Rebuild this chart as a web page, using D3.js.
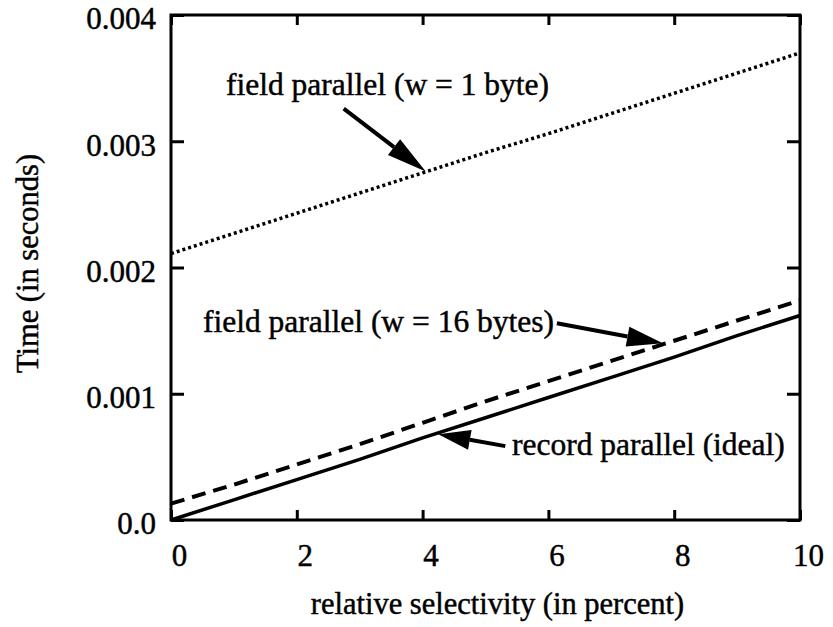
<!DOCTYPE html>
<html>
<head>
<meta charset="utf-8">
<script src="https://cdn.jsdelivr.net/npm/d3@7"></script>
<style>
  body { margin: 0; background: #fff; }
  svg text { font-family: "Liberation Serif", "Times New Roman", serif; fill: #000; stroke: #000; stroke-width: 0.45px; }
</style>
</head>
<body>
<div id="chart"></div>
<script>
// relative selectivity (percent)
const selectivity = [0, 1, 2, 3, 4, 5, 6, 7, 8, 9, 10];
// time in seconds
const fieldW1 = [0.00211, 0.00227, 0.00243, 0.00259, 0.00275, 0.00291, 0.00306, 0.00322, 0.00338, 0.00354, 0.00370];
const fieldW16 = [0.00013, 0.00028, 0.00044, 0.00060, 0.00077, 0.00094, 0.00110, 0.00126, 0.00142, 0.00158, 0.00174];
const recordIdeal = [0.00000, 0.00016, 0.00032, 0.00048, 0.00065, 0.00081, 0.00097, 0.00113, 0.00129, 0.00146, 0.00162];

const xTicks = [0, 2, 4, 6, 8, 10];
const yTicks = [0, 0.001, 0.002, 0.003, 0.004];
const yTickLabels = ["0.0", "0.001", "0.002", "0.003", "0.004"];

const width = 833,
      height = 627,
      margin = ({top: 15, right: 33, bottom: 107, left: 171});

const svg = d3.select("#chart")
    .append("svg")
    .attr("width", width)
    .attr("height", height);

const x = d3.scaleLinear()
    .domain([0, 10])
    .range([margin.left, width - margin.right]);

const y = d3.scaleLinear()
    .domain([0, 0.004])
    .range([height - margin.bottom, margin.top]);

// axes, ticks point inward
svg.append("g")
    .attr("transform", `translate(0,${height - margin.bottom})`)
    .call(d3.axisBottom(x).tickValues(xTicks).tickSize(-10).tickPadding(24).tickFormat(d => d))
    .call(g => g.selectAll("text").attr("dx", 8));

svg.append("g")
    .attr("transform", `translate(0,${margin.top})`)
    .call(d3.axisTop(x).tickValues(xTicks).tickSize(-10).tickFormat(""));

svg.append("g")
    .attr("transform", `translate(${margin.left},0)`)
    .call(d3.axisLeft(y).tickValues(yTicks).tickSize(-13).tickPadding(15).tickFormat((d, i) => yTickLabels[i]))
    .call(g => g.selectAll("text").attr("dy", "0.45em"));

svg.append("g")
    .attr("transform", `translate(${width - margin.right},0)`)
    .call(d3.axisRight(y).tickValues(yTicks).tickSize(-13).tickFormat(""));

svg.selectAll(".domain").remove();
svg.selectAll(".tick line").attr("stroke", "#000").attr("stroke-width", 3);
svg.selectAll(".tick text").style("font-size", "31px").attr("fill", "#000");

// frame
svg.append("rect")
    .attr("x", x(0))
    .attr("y", y(0.004))
    .attr("width", x(10) - x(0))
    .attr("height", y(0) - y(0.004))
    .attr("fill", "none")
    .attr("stroke", "#000")
    .attr("stroke-width", 3);

const line = d3.line()
    .x((d, i) => x(selectivity[i]))
    .y(d => y(d));

svg.append("path")
    .datum(fieldW1)
    .attr("d", line)
    .attr("fill", "none")
    .attr("stroke", "#000")
    .attr("stroke-width", 3.5)
    .attr("stroke-dasharray", "3,3");

svg.append("path")
    .datum(fieldW16)
    .attr("d", line)
    .attr("fill", "none")
    .attr("stroke", "#000")
    .attr("stroke-width", 4)
    .attr("stroke-dasharray", "14,8");

svg.append("path")
    .datum(recordIdeal)
    .attr("d", line)
    .attr("fill", "none")
    .attr("stroke", "#000")
    .attr("stroke-width", 3.5);

// annotations: tip in data units, tail as pixel offset, text
const notes = [
    {text: "field parallel (w = 1 byte)", tip: [4.05, 0.00276], tail: [-82, -63], tx: 226, ty: 95, anchor: "start", head: 40},
    {text: "field parallel (w = 16 bytes)", tip: [7.82, 0.00140], tail: [-106, -20], tx: 554, ty: 332, anchor: "end", head: 36},
    {text: "record parallel (ideal)", tip: [4.25, 0.00068], tail: [67, 12], tx: 512, ty: 455, anchor: "start", head: 32}
];

for (let n of notes) {
    const tx = x(n.tip[0]), ty = y(n.tip[1]);
    const sx = tx + n.tail[0], sy = ty + n.tail[1];
    const ang = Math.atan2(ty - sy, tx - sx);
    const bx = tx - n.head * Math.cos(ang), by = ty - n.head * Math.sin(ang);
    const w = 10;
    svg.append("line")
        .attr("x1", sx).attr("y1", sy)
        .attr("x2", bx).attr("y2", by)
        .attr("stroke", "#000")
        .attr("stroke-width", 4);
    svg.append("path")
        .attr("d", `M${tx},${ty}L${bx - w * Math.sin(ang)},${by + w * Math.cos(ang)}L${bx + w * Math.sin(ang)},${by - w * Math.cos(ang)}Z`)
        .attr("fill", "#000");
    svg.append("text")
        .attr("x", n.tx)
        .attr("y", n.ty)
        .attr("text-anchor", n.anchor)
        .style("font-size", "31.5px")
        .text(n.text);
}

// axis titles
svg.append("text")
    .attr("x", (x(0) + x(10)) / 2 + 12)
    .attr("y", 614)
    .attr("text-anchor", "middle")
    .style("font-size", "30.5px")
    .text("relative selectivity (in percent)");

svg.append("text")
    .attr("transform", `translate(38,${(y(0) + y(0.004)) / 2 - 4}) rotate(-90)`)
    .attr("text-anchor", "middle")
    .style("font-size", "30.5px")
    .text("Time (in seconds)");
</script>
</body>
</html>
